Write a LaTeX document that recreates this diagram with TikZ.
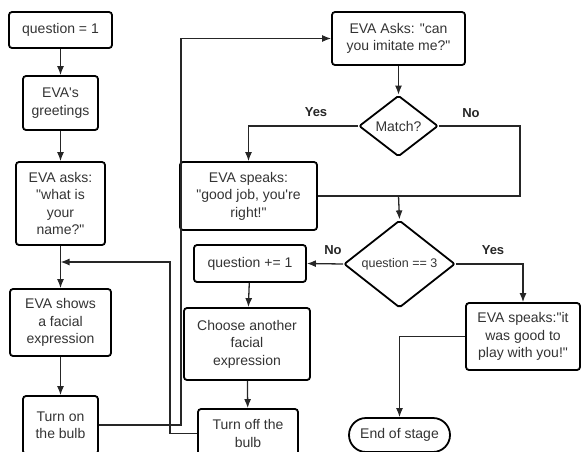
\documentclass[tikz,border=0pt]{standalone}
\usepackage{fontspec}
\setmainfont{Liberation Sans}[Ligatures=TeXOff]
\usetikzlibrary{arrows.meta,shapes.geometric,shapes.misc}
\tikzset{
  box/.style={draw,line width=1.8pt,rounded corners=3pt,align=center,inner sep=0pt,
    font=\fontsize{14}{17.5}\selectfont,text=black!80},
  cond/.style={draw,diamond,line width=1.8pt,rounded corners=2pt,inner sep=0pt,align=center,
    text=black!80},
  term/.style={draw,rounded rectangle,line width=1.8pt,inner sep=0pt,
    font=\fontsize{14}{17.5}\selectfont,text=black!80},
  link/.style={line width=1.3pt,black!85},
  arr/.style={link,-{Latex[length=9pt,width=7pt]}},
  lbl/.style={font=\fontsize{13}{15}\selectfont\bfseries,text=black!85}
}
\begin{document}
\begin{tikzpicture}[x=1pt,y=-1pt]
\useasboundingbox (0,0) rectangle (581,451);
% left column
\node[box,minimum width=103pt,minimum height=36pt](q1)at(60.5,30){question = 1};
\node[box,minimum width=75pt,minimum height=54pt](greet)at(60.5,103){EVA's\\greetings};
\node[box,minimum width=89pt,minimum height=83pt](asks)at(60.5,203.5){EVA asks:\\"what is\\your\\name?"};
\node[box,minimum width=101pt,minimum height=67pt](shows)at(60.5,322.5){EVA shows\\a facial\\expression};
\node[box,minimum width=75pt,minimum height=58pt](bulbon)at(60.5,425){Turn on\\the bulb};
% middle and right
\node[box,minimum width=133pt,minimum height=53pt](imit)at(398.5,38.5){EVA Asks: "can\\you imitate me?"};
\node[cond,minimum width=79pt,minimum height=61pt,font=\fontsize{14}{17}\selectfont](match)at(398.5,126){Match?};
\node[box,minimum width=137pt,minimum height=68pt](speak)at(248.5,196){EVA speaks:\\"good job, you're\\right!"};
\node[cond,minimum width=111pt,minimum height=72pt,font=\fontsize{12.5}{15}\selectfont](q3)at(399.5,264){question == 3};
\node[box,minimum width=112pt,minimum height=37pt](qinc)at(250,263.5){question += 1};
\node[box,minimum width=126pt,minimum height=72pt](choose)at(247,344){Choose another\\facial\\expression};
\node[box,minimum width=100pt,minimum height=49pt](bulboff)at(248,433.5){Turn off the\\bulb};
\node[box,minimum width=114pt,minimum height=67pt](speakend)at(523,336.5){EVA speaks:"it\\was good to\\play with you!"};
\node[term,minimum width=101pt,minimum height=34pt](end)at(399.5,435){End of stage};
\coordinate(merge)at(match.south|-speak.east);
\coordinate(join)at(60.5,262);
% connectors
\draw[arr](q1)--(greet);
\draw[arr](greet)--(asks);
\draw[arr](asks)--(shows);
\draw[arr](shows)--(bulbon);
\draw[arr](bulbon.east)--++(82,0)|-(imit.west);
\draw[arr](imit)--(match);
\draw[arr](match.west)-|(speak.north);
\draw[link](match.east)--++(81,0)|-(speak.east);
\draw[arr](merge)--(q3.north);
\draw[arr](q3.west)--(qinc.east);
\draw[arr](q3.east)-|(speakend.north);
\draw[arr](qinc)--(choose);
\draw[arr](choose)--(bulboff);
\draw[arr](bulboff.west)--++(-27,0)|-(join);
\draw[arr](speakend.west)-|(end.north);
\node[lbl](yes1)at(316,112){Yes};
\node[lbl](no1)at(471,113){No};
\node[lbl](no2)at(333,250){No};
\node[lbl](yes2)at(493,250){Yes};
\end{tikzpicture}
\end{document}
